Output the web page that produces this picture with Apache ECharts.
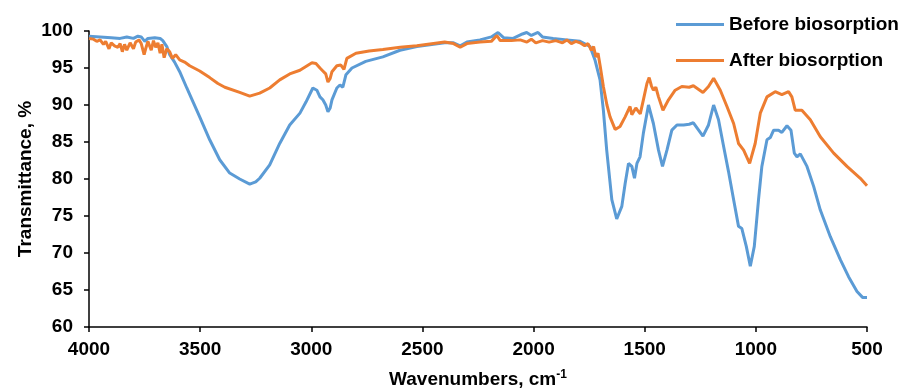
<!DOCTYPE html>
<html>
<head>
<meta charset="utf-8">
<script src="https://cdn.jsdelivr.net/npm/echarts@6/dist/echarts.min.js"></script>
<style>
  html, body { margin: 0; padding: 0; background: #fff; }
  #chart { width: 901px; height: 390px; }
</style>
</head>
<body>
<div id="chart"></div>
<script>
// FTIR spectra (wavenumber, cm-1 / transmittance, %)
const beforeWave = [4000,3950,3900,3860,3830,3800,3780,3765,3749,3735,3704,3680,3668,3650,3637,3615,3592,3560,3530,3502,3457,3412,3367,3322,3277,3250,3232,3187,3142,3097,3051,3024,2993,2975,2961,2948,2935,2925,2915,2907,2885,2871,2858,2850,2844,2817,2755,2678,2601,2525,2450,2400,2360,2330,2300,2241,2190,2160,2135,2092,2050,2031,2010,1980,1960,1912,1850,1791,1746,1723,1701,1686,1671,1648,1626,1603,1588,1573,1558,1546,1535,1521,1506,1483,1461,1438,1420,1400,1378,1355,1325,1300,1281,1238,1213,1190,1168,1145,1123,1100,1078,1063,1043,1025,1007,988,973,950,935,920,898,883,860,842,827,815,800,770,740,710,665,620,583,545,520,500];
const beforeT = [99.3,99.2,99.1,99.0,99.2,99.0,99.3,99.2,98.6,99.0,99.1,99.0,98.7,97.9,96.8,95.8,94.5,92.3,90.3,88.4,85.3,82.6,80.8,80.0,79.3,79.6,80.1,81.9,84.8,87.3,88.9,90.4,92.3,92.0,91.1,90.7,90.0,89.1,89.6,90.7,92.3,92.7,92.4,92.3,94.1,95.0,95.9,96.5,97.4,97.9,98.2,98.4,98.4,98.0,98.5,98.8,99.2,99.8,99.1,99.0,99.6,99.8,99.4,99.8,99.2,99.0,98.8,98.6,97.9,96.0,93.4,89.3,83.9,77.2,74.6,76.3,79.4,82.1,81.7,80.1,82.1,83.0,86.2,90.0,87.5,83.9,81.7,83.9,86.6,87.3,87.3,87.4,87.6,85.8,87.3,90.0,88.0,84.4,81.0,77.2,73.6,73.3,70.9,68.2,70.9,77.2,81.7,85.3,85.6,86.6,86.6,86.3,87.2,86.6,83.5,83.0,83.4,81.7,79.0,75.8,72.2,69.1,66.8,64.8,64.0,64.0];

const afterWave = [4000,3980,3965,3950,3935,3925,3910,3900,3885,3870,3860,3850,3840,3830,3815,3800,3790,3775,3765,3752,3745,3735,3720,3710,3700,3690,3680,3672,3662,3650,3637,3625,3610,3592,3570,3547,3502,3457,3420,3389,3322,3277,3232,3187,3142,3097,3051,2997,2979,2961,2948,2935,2925,2915,2907,2885,2867,2853,2840,2799,2740,2678,2600,2525,2450,2400,2360,2330,2300,2241,2190,2165,2150,2100,2060,2030,2010,1990,1960,1930,1900,1870,1850,1830,1810,1791,1770,1755,1740,1730,1720,1710,1700,1686,1670,1656,1633,1611,1588,1566,1558,1551,1540,1528,1520,1506,1490,1480,1470,1461,1450,1438,1418,1393,1363,1333,1300,1281,1238,1213,1190,1160,1130,1100,1078,1055,1028,1003,980,950,913,883,853,838,823,793,755,710,650,590,530,500];
const afterT = [99.0,98.9,98.6,98.8,98.2,98.6,97.6,98.4,98.0,97.8,98.3,97.2,98.2,97.4,98.4,97.6,98.5,98.8,98.3,96.8,97.6,98.6,97.4,98.7,97.8,98.4,97.0,98.2,96.4,97.6,97.2,96.3,96.8,96.1,95.8,95.3,94.6,93.7,92.9,92.4,91.7,91.2,91.6,92.3,93.4,94.2,94.7,95.7,95.6,95.0,94.6,94.2,93.1,93.6,94.5,95.3,95.4,94.8,96.3,97.0,97.3,97.5,97.8,98.0,98.3,98.5,98.3,97.8,98.3,98.5,98.6,99.4,98.7,98.7,98.8,98.5,98.9,98.4,98.7,98.5,98.7,98.4,98.8,98.3,98.6,98.4,98.0,98.3,97.4,97.9,96.5,97.0,95.2,92.5,90.0,88.4,86.7,87.1,88.4,89.8,88.7,88.6,89.6,89.1,88.8,90.7,92.9,93.7,92.6,92.0,92.4,91.1,89.3,90.7,92.0,92.5,92.4,92.6,91.7,92.5,93.6,92.0,89.8,87.5,84.8,83.9,82.1,84.8,88.9,91.1,91.8,91.4,91.8,91.1,89.3,89.3,88.0,85.7,83.5,81.7,80.1,79.1];

const seriesNames = ['Before biosorption', 'After biosorption'];
const seriesColors = ['#5B9BD5', '#ED7D31'];

const font = '"Liberation Sans", Arial, sans-serif';
const txt = { fontFamily: font, fontWeight: 'bold', fontSize: 19, color: '#000' };

function pairs(xs, ys) {
  return xs.map((x, i) => [x, ys[i]]);
}

let chart = echarts.init(document.getElementById('chart'));
chart.setOption({
  animation: false,
  textStyle: { fontFamily: font },
  grid: { left: 89, right: 34, top: 31, bottom: 63, containLabel: false, outerBoundsMode: 'none' },
  legend: {
    orient: 'vertical',
    left: 671,
    top: 10,
    icon: 'rect',
    itemWidth: 48,
    itemHeight: 3,
    itemGap: 17,
    textStyle: txt,
    data: seriesNames
  },
  xAxis: {
    type: 'value',
    inverse: true,
    min: 500,
    max: 4000,
    interval: 500,
    name: '{a|Wavenumbers, cm}{s|-1}',
    nameLocation: 'middle',
    nameGap: 42,
    nameTextStyle: {
      rich: {
        a: txt,
        s: { fontFamily: font, fontWeight: 'bold', fontSize: 12, color: '#000', verticalAlign: 'top', padding: [0, 0, 9, 0] }
      }
    },
    splitLine: { show: false },
    axisLine: { lineStyle: { color: '#000', width: 1.5 } },
    axisTick: { show: true, length: 5, lineStyle: { color: '#000', width: 1.5 } },
    axisLabel: Object.assign({ margin: 13, formatter: v => String(v) }, txt)
  },
  yAxis: {
    type: 'value',
    min: 60,
    max: 100,
    interval: 5,
    name: 'Transmittance, %',
    nameLocation: 'middle',
    nameGap: 54,
    nameMoveOverlap: false,
    nameTextStyle: txt,
    splitLine: { show: false },
    axisLine: { show: true, lineStyle: { color: '#000', width: 1.5 } },
    axisTick: { show: true, length: 5, lineStyle: { color: '#000', width: 1.5 } },
    axisLabel: Object.assign({ margin: 16 }, txt)
  },
  series: [
    {
      name: seriesNames[0],
      type: 'line',
      symbol: 'none',
      data: pairs(beforeWave, beforeT),
      lineStyle: { color: seriesColors[0], width: 3 },
      itemStyle: { color: seriesColors[0] }
    },
    {
      name: seriesNames[1],
      type: 'line',
      symbol: 'none',
      data: pairs(afterWave, afterT),
      lineStyle: { color: seriesColors[1], width: 3 },
      itemStyle: { color: seriesColors[1] }
    }
  ]
});
</script>
</body>
</html>
